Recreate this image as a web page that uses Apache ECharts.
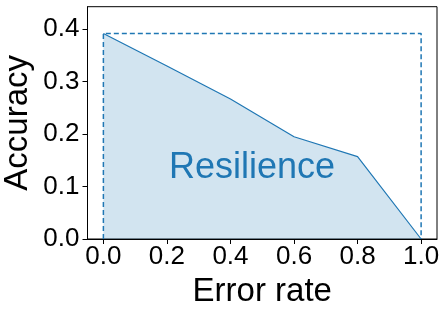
<!DOCTYPE html>
<html><head><meta charset="utf-8">
<script src="https://cdn.jsdelivr.net/npm/echarts@6/dist/echarts.min.js"></script>
<style>html,body{margin:0;padding:0;background:#fff}#c{width:448px;height:314px}</style>
</head><body><div id="c"></div>
<script>
const errorRates = [0.0, 0.2, 0.4, 0.6, 0.8, 1.0];
const accuracy = [0.392, 0.33, 0.267, 0.195, 0.157, 0.0];
const xTicks = [0.0, 0.2, 0.4, 0.6, 0.8, 1.0];
const yTicks = [0.0, 0.1, 0.2, 0.3, 0.4];
const boxX = [0.0, 0.0, 1.0, 1.0];
const boxY = [0.0, 0.392, 0.392, 0.0];
const labelText = 'Resilience';
const labelPos = [0.2, 0.136];

const C0 = '#1f77b4';
const FONT = 'Liberation Sans, Arial, sans-serif';
const chart = echarts.init(document.getElementById('c'), null, {renderer: 'canvas'});
chart.setOption({
  animation: false,
  grid: {left: 87.5, right: 11, top: 6.7, bottom: 75, show: true, borderColor: '#000', borderWidth: 1,
    backgroundColor: 'transparent', containLabel: false, outerBoundsMode: 'none'},
  xAxis: {
    type: 'value', min: -0.05, max: 1.05,
    name: 'Error rate', nameLocation: 'middle', nameGap: 36, nameMoveOverlap: false,
    nameTextStyle: {fontSize: 33, color: '#000', fontFamily: FONT},
    axisLine: {show: true, onZero: false, lineStyle: {color: '#000', width: 1}},
    axisTick: {show: true, length: 5, customValues: xTicks, lineStyle: {color: '#000'}},
    axisLabel: {customValues: xTicks, fontSize: 26, color: '#000', fontFamily: FONT, margin: 5,
      formatter: v => v.toFixed(1)},
    splitLine: {show: false}
  },
  yAxis: {
    type: 'value', min: 0, max: 0.443,
    name: 'Accuracy', nameLocation: 'middle', nameGap: 53, nameMoveOverlap: false,
    nameTextStyle: {fontSize: 33, color: '#000', fontFamily: FONT},
    axisLine: {show: true, onZero: false, lineStyle: {color: '#000', width: 1}},
    axisTick: {show: true, length: 5, customValues: yTicks, lineStyle: {color: '#000'}},
    axisLabel: {customValues: yTicks, fontSize: 26, color: '#000', fontFamily: FONT, margin: 8,
      formatter: v => v.toFixed(1)},
    splitLine: {show: false}
  },
  series: [
    {
      type: 'line', data: errorRates.map((x, i) => [x, accuracy[i]]),
      showSymbol: false, symbol: 'none',
      lineStyle: {color: C0, width: 1.2},
      areaStyle: {color: 'rgba(31,119,180,0.2)', opacity: 1, origin: 'start'},
      z: 2
    },
    {
      type: 'line', data: boxX.map((x, i) => [x, boxY[i]]),
      showSymbol: false, symbol: 'none',
      lineStyle: {color: C0, width: 1.5, type: [5, 3]},
      z: 3
    },
    {
      type: 'scatter', data: [labelPos], symbolSize: 0,
      itemStyle: {opacity: 1},
      label: {show: true, position: 'right', distance: 2, formatter: labelText,
        fontSize: 36, color: C0, opacity: 1, fontFamily: FONT},
      z: 4
    }
  ]
});
</script></body></html>
